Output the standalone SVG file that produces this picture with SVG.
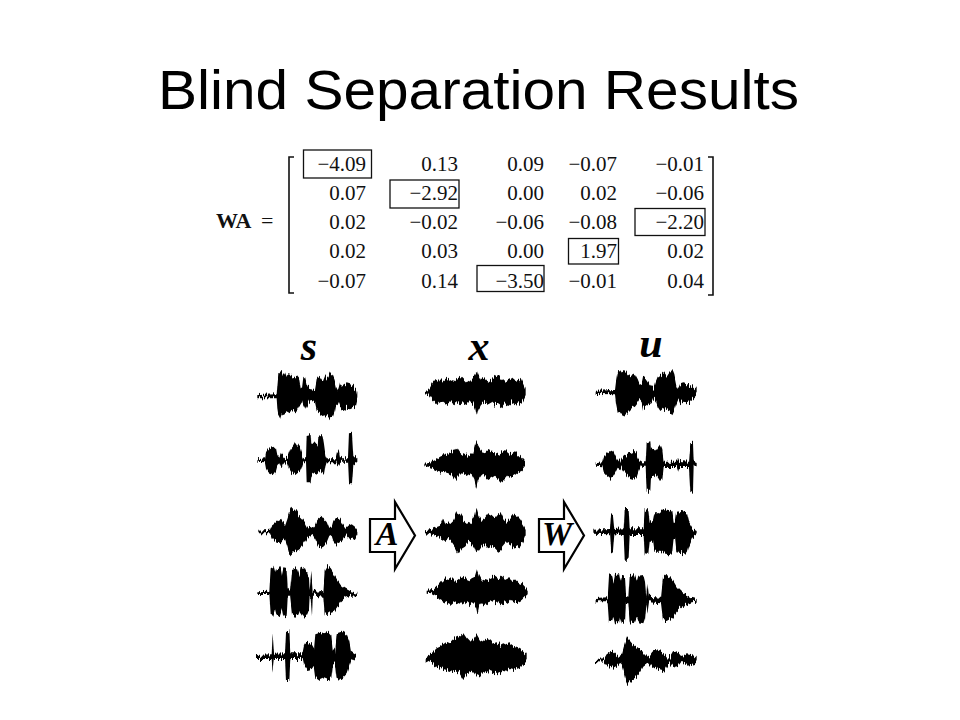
<svg xmlns="http://www.w3.org/2000/svg" width="960" height="720" viewBox="0 0 960 720">
<style>
.title{font-family:"Liberation Sans",Arial,sans-serif;font-size:55px;fill:#000}
.num{font-family:"Liberation Serif","Times New Roman",serif;font-size:21px;fill:#111;text-anchor:end}
.wa{font-family:"Liberation Serif","Times New Roman",serif;font-size:22px;fill:#111}
.box{fill:none;stroke:#111;stroke-width:1.3}
.brk{fill:none;stroke:#111;stroke-width:1.6}
.lab{font-family:"Liberation Serif","Times New Roman",serif;font-style:italic;font-weight:bold;fill:#000;text-anchor:middle}
.wf{fill:#000}
.arw{fill:#fff;stroke:#000;stroke-width:2.2;stroke-linejoin:miter}
</style>
<defs>
<filter id="jag" x="-5%" y="-25%" width="110%" height="150%">
<feTurbulence type="fractalNoise" baseFrequency="0.55 0.006" numOctaves="2" seed="7" result="n"/>
<feColorMatrix in="n" type="matrix" values="0 0 0 0 0.5  1 0 0 0 0  0 0 0 0 0  0 0 0 0 1" result="m"/>
<feDisplacementMap in="SourceGraphic" in2="m" scale="30" xChannelSelector="R" yChannelSelector="G"/>
</filter>
</defs>
<rect width="960" height="720" fill="#fff"/>
<g id="title"><text class="title" x="158" y="109" textLength="641" lengthAdjust="spacingAndGlyphs">Blind Separation Results</text></g>

<g id="matrix">
<text class="wa" x="216" y="228" font-weight="bold">WA</text>
<text class="wa" x="261" y="228">=</text>
<path class="brk" d="M294,157 H289 V293 H294"/>
<path class="brk" d="M708,157 H713 V295 H708"/>
<g id="row1">
<text class="num" x="366" y="171">−4.09</text><text class="num" x="458" y="171">0.13</text><text class="num" x="544" y="171">0.09</text><text class="num" x="617" y="171">−0.07</text><text class="num" x="704" y="171">−0.01</text>
</g>
<g id="row2">
<text class="num" x="366" y="200">0.07</text><text class="num" x="458" y="200">−2.92</text><text class="num" x="544" y="200">0.00</text><text class="num" x="617" y="200">0.02</text><text class="num" x="704" y="200">−0.06</text>
</g>
<g id="row3">
<text class="num" x="366" y="229">0.02</text><text class="num" x="458" y="229">−0.02</text><text class="num" x="544" y="229">−0.06</text><text class="num" x="617" y="229">−0.08</text><text class="num" x="704" y="229">−2.20</text>
</g>
<g id="row4">
<text class="num" x="366" y="258">0.02</text><text class="num" x="458" y="258">0.03</text><text class="num" x="544" y="258">0.00</text><text class="num" x="617" y="258">1.97</text><text class="num" x="704" y="258">0.02</text>
</g>
<g id="row5">
<text class="num" x="366" y="288">−0.07</text><text class="num" x="458" y="288">0.14</text><text class="num" x="544" y="288">−3.50</text><text class="num" x="617" y="288">−0.01</text><text class="num" x="704" y="288">0.04</text>
</g>
<rect class="box" x="303.5" y="150" width="68" height="28"/>
<rect class="box" x="390" y="180" width="69" height="28"/>
<rect class="box" x="635" y="208.5" width="70" height="27"/>
<rect class="box" x="568.5" y="238.5" width="50" height="25.5"/>
<rect class="box" x="477" y="265.5" width="67" height="26"/>
</g>

<g id="labels">
<text class="lab" x="309" y="360" font-size="42">s</text>
<text class="lab" x="479" y="360" font-size="42">x</text>
<text class="lab" x="651" y="357" font-size="42">u</text>
</g>

<g id="col-s" transform="translate(250 365) scale(0.33333)" filter="url(#jag)">
<polygon class="wf" points="22,90 80,88 82,60 85,25 90,20 95,18 100,30 105,22 110,35 120,28 130,40 140,35 148,45 152,70 156,72 160,40 165,35 170,55 178,72 195,75 200,45 205,38 210,35 218,48 225,30 232,40 240,25 248,30 254,45 258,62 265,75 270,55 280,62 290,55 300,58 310,62 318,70 322,88 322,102 318,120 310,125 300,130 290,128 280,135 270,125 265,112 258,118 254,140 248,158 240,160 232,150 225,155 218,150 210,145 205,140 200,135 195,112 185,108 178,110 170,125 165,135 160,125 156,112 152,118 148,125 140,140 130,135 120,140 110,145 100,150 95,145 90,160 85,150 82,130 80,100 22,100"/>
<polygon class="wf" points="22,283 45,280 48,262 55,250 62,245 70,242 78,250 82,270 88,278 92,268 95,262 98,272 104,280 112,278 116,265 122,250 130,240 136,228 142,238 150,250 155,268 160,280 168,280 170,210 182,207 184,240 192,232 198,238 203,245 205,210 212,207 218,215 222,240 226,270 230,280 258,280 262,262 266,252 270,275 275,280 294,280 297,205 306,203 310,270 322,282 322,290 310,300 306,355 297,355 294,290 275,290 270,295 266,302 262,300 258,292 230,292 226,305 222,330 218,325 212,318 205,325 203,330 198,328 190,325 184,330 182,355 170,355 168,292 160,292 155,308 150,320 142,325 136,330 130,328 122,322 116,310 112,295 104,292 98,300 95,310 92,305 88,295 82,300 78,315 70,328 62,325 55,322 48,308 45,292 22,290"/>
<polygon class="wf" points="25,497 60,494 65,482 75,475 85,465 92,462 98,472 105,480 112,460 118,440 125,428 135,435 145,450 155,460 165,475 172,488 180,485 188,490 196,480 202,462 210,455 220,458 230,468 238,488 245,488 250,470 258,462 266,458 274,468 280,480 288,490 295,482 305,478 315,485 322,495 322,507 315,518 305,522 295,520 288,510 280,525 274,535 266,540 258,538 250,528 245,512 238,515 230,535 220,545 210,550 202,540 196,522 188,510 180,515 172,518 165,530 155,545 145,552 135,558 125,560 118,568 112,545 105,525 98,528 92,535 85,532 75,528 65,518 60,505 25,505"/>
<polygon class="wf" points="22,682 58,680 62,610 70,605 75,625 80,610 92,607 96,630 100,610 110,612 113,670 120,678 126,612 140,606 148,630 152,612 165,610 172,625 177,640 179,675 184,620 188,675 195,680 220,678 224,620 232,606 242,612 252,628 262,645 272,660 285,670 300,678 322,683 322,690 300,693 285,698 272,710 262,725 252,740 240,745 232,750 224,748 220,695 195,692 188,692 186,748 182,695 179,695 177,735 170,752 160,755 150,740 145,752 135,755 126,750 120,695 113,695 110,752 100,755 96,735 90,752 80,755 75,735 70,752 62,750 58,690 22,690"/>
<polygon class="wf" points="18,870 65,868 68,805 72,866 105,865 108,800 118,802 121,865 158,865 163,840 172,830 185,838 192,850 196,805 210,800 222,805 235,800 244,810 248,850 255,860 260,805 275,800 290,810 298,830 303,860 318,870 318,880 303,890 298,905 290,930 275,945 260,942 255,895 248,900 244,935 235,945 222,940 210,945 196,935 192,905 185,915 172,918 163,905 158,882 121,882 118,945 108,945 105,882 72,882 68,920 65,882 18,882"/>
</g>

<g id="col-x" transform="translate(415 365) scale(0.33333)" filter="url(#jag)">
<polygon class="wf" points="30,78 40,75 45,68 52,55 60,45 68,50 75,40 85,48 95,38 105,45 115,50 125,42 135,35 145,45 155,55 165,48 175,38 182,25 186,15 190,30 198,45 210,40 220,50 230,42 240,35 250,30 260,42 270,50 280,45 290,40 300,48 310,45 318,38 325,55 332,72 332,90 325,105 318,115 310,112 300,118 290,112 280,120 270,115 260,125 250,118 240,120 230,112 220,118 210,110 198,120 190,135 185,155 180,130 175,118 165,112 155,120 145,115 135,118 125,112 115,120 105,112 95,118 85,110 75,112 68,120 60,112 52,105 45,95 40,88 30,85"/>
<polygon class="wf" points="28,296 45,293 55,285 65,280 75,272 85,268 95,270 105,262 115,258 125,245 135,260 145,268 155,272 165,270 175,260 180,240 184,228 190,245 200,262 210,265 220,255 230,260 240,262 250,268 260,262 270,255 280,265 290,268 300,262 310,270 320,280 330,292 330,306 320,318 310,322 300,330 290,335 280,330 270,342 260,350 250,340 240,332 230,338 220,345 210,335 200,330 190,345 184,372 178,345 170,330 160,335 150,330 140,325 130,335 120,345 110,330 100,325 90,322 80,320 70,318 60,314 50,308 40,305 28,304"/>
<polygon class="wf" points="30,496 45,493 60,488 75,482 85,458 92,478 105,475 115,465 125,442 135,448 145,465 160,478 170,470 178,455 184,428 190,450 200,465 210,458 220,445 230,450 240,460 250,448 258,445 266,462 275,470 285,460 295,448 305,452 315,462 325,478 332,492 332,508 325,525 315,540 305,545 295,548 285,540 275,535 266,545 258,555 250,560 240,550 230,545 220,550 210,540 200,545 190,560 184,565 178,548 170,535 160,530 150,542 140,548 130,565 120,545 110,530 100,522 90,528 80,522 70,515 55,510 40,506 30,505"/>
<polygon class="wf" points="35,677 55,675 70,660 80,648 90,640 100,645 110,638 120,648 130,640 140,632 150,640 160,648 170,640 180,635 186,615 192,632 200,648 210,642 220,645 230,640 240,635 250,642 260,632 270,645 280,640 290,650 300,640 310,650 320,655 330,665 338,675 338,688 330,695 320,705 310,710 300,712 290,705 280,715 270,708 260,720 250,712 240,715 230,708 220,712 210,720 200,715 192,725 188,745 183,720 175,712 165,718 155,710 145,720 135,712 125,718 115,712 105,720 95,715 85,710 75,705 65,695 50,688 35,686"/>
<polygon class="wf" points="32,874 45,868 55,860 65,850 75,845 85,838 95,830 105,835 115,825 125,820 135,815 145,805 155,820 165,830 175,822 185,808 195,825 205,830 215,822 225,825 235,835 245,832 255,840 265,835 275,840 285,838 295,845 305,848 315,852 325,860 335,870 335,888 325,900 315,908 305,912 295,918 285,915 275,920 265,918 255,925 245,920 235,922 225,918 215,928 205,920 195,930 185,935 175,922 165,925 155,928 145,942 135,925 125,920 115,922 105,918 95,915 85,912 75,908 65,905 55,898 45,890 32,884"/>
</g>

<g id="col-u" transform="translate(585 365) scale(0.33333)" filter="url(#jag)">
<polygon class="wf" points="32,77 90,75 93,50 98,20 105,15 112,25 120,18 130,30 140,35 150,30 158,45 164,60 170,55 174,35 182,40 192,55 200,65 206,72 212,50 218,35 226,30 235,22 245,35 255,20 262,15 268,30 274,60 280,72 286,58 295,55 305,58 315,60 325,65 335,75 335,90 325,100 315,108 305,112 295,110 286,115 280,100 274,115 268,135 262,148 255,140 245,135 235,130 226,138 218,125 212,105 206,100 200,115 192,118 182,125 174,132 170,112 164,105 158,115 150,125 140,130 130,140 120,150 112,155 105,145 98,140 93,115 90,88 32,87"/>
<polygon class="wf" points="32,295 52,292 56,275 65,262 75,255 85,260 92,275 98,288 104,280 108,288 115,275 125,268 135,262 145,258 155,268 162,285 168,292 182,292 185,235 196,232 198,255 206,250 214,258 220,248 226,240 232,255 236,290 275,290 279,278 283,288 312,290 316,238 324,236 326,290 335,294 335,304 326,305 324,380 316,378 312,306 283,306 279,318 275,306 236,306 232,345 226,350 220,340 214,330 206,338 198,340 196,380 185,380 182,305 168,305 162,318 155,340 145,345 135,342 125,330 115,318 108,306 104,312 98,308 92,322 85,335 75,338 65,330 56,320 52,304 32,302"/>
<polygon class="wf" points="25,494 75,492 78,448 84,450 88,492 116,490 119,432 131,432 134,490 176,490 179,435 190,432 194,470 204,465 208,445 220,445 226,440 235,432 250,435 262,440 266,470 270,470 274,440 290,438 305,442 312,470 322,488 335,495 335,505 322,515 312,540 305,565 290,568 274,565 270,525 266,525 262,565 250,568 235,565 226,560 220,560 208,560 204,530 194,530 190,570 179,568 176,510 134,510 131,578 119,578 116,510 88,508 84,560 78,558 75,508 25,506"/>
<polygon class="wf" points="32,702 68,700 72,632 82,628 86,650 90,630 102,628 106,650 110,632 120,635 123,692 130,695 134,630 148,628 155,650 160,632 175,630 180,650 184,695 187,650 192,695 228,698 234,640 245,630 255,635 265,648 275,665 290,680 305,690 320,698 335,702 335,710 320,712 305,718 290,725 275,740 265,755 255,762 245,768 234,765 228,715 192,712 188,740 184,712 180,760 175,775 160,772 155,755 148,775 134,772 130,715 123,715 120,772 110,775 106,755 102,775 90,775 86,755 82,772 72,770 68,712 32,712"/>
<polygon class="wf" points="30,882 58,880 65,868 75,862 85,860 95,870 102,876 110,872 116,850 122,830 126,820 135,828 145,840 155,848 165,855 175,865 185,875 195,870 202,860 212,855 222,858 232,862 240,868 248,878 256,875 264,862 272,860 280,866 288,876 296,874 305,868 318,870 328,872 335,880 335,892 328,898 318,900 305,902 296,895 288,895 280,905 272,908 264,905 256,895 248,898 240,912 232,918 222,915 212,912 202,905 195,895 185,898 175,905 165,925 155,935 145,942 135,950 128,958 122,945 116,920 110,900 102,895 95,902 85,908 75,905 65,900 58,890 30,888"/>
</g>

<g id="arrow-A">
<polygon class="arw" points="370,519 395,519 395,502 415,535.5 395,569 395,552 370,552"/>
<text class="lab" x="387" y="545" font-size="34">A</text>
</g>
<g id="arrow-W">
<polygon class="arw" points="539,519 564,519 564,502 584,535.5 564,569 564,552 539,552"/>
<text class="lab" x="557" y="545" font-size="34">W</text>
</g>
</svg>
